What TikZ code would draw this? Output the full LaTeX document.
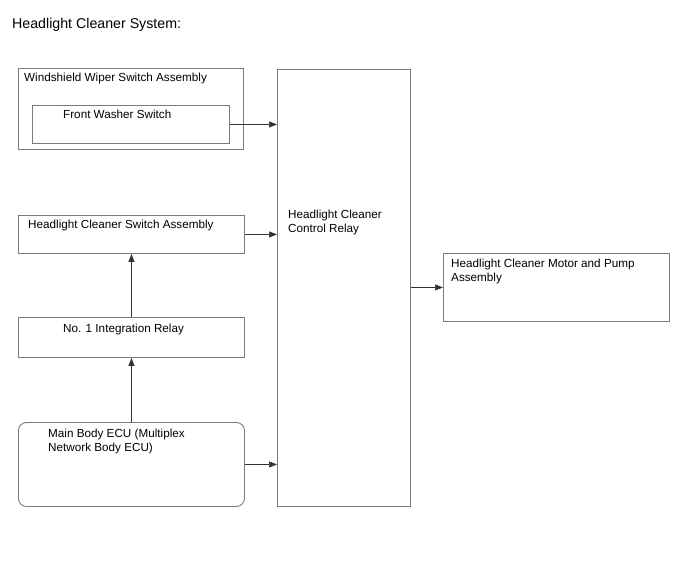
\documentclass[tikz,border=0pt]{standalone}
\usepackage{fontspec}
\setmainfont{Liberation Sans}
\usetikzlibrary{arrows.meta}
\definecolor{boxgray}{HTML}{7A7A7A}
\definecolor{linegray}{HTML}{333333}
\begin{document}
\begin{tikzpicture}[x=1pt,y=-1pt,
  box/.style={draw=boxgray, line width=0.9pt, inner sep=0pt, anchor=north west},
  lbl/.style={inner sep=0pt, anchor=base west, align=left, font=\fontsize{11.7}{14}\selectfont},
  conn/.style={draw=linegray, line width=0.7pt, -{Triangle[length=8pt,width=6pt]}}]
\useasboundingbox (0,0) rectangle (688,560);
\node[inner sep=0pt, anchor=base west, font=\fontsize{14.2}{17}\selectfont] (title) at (12,28) {Headlight Cleaner System:};
% boxes
\node[box, minimum width=225pt, minimum height=81pt] (ww) at (18,68) {};
\node[box, minimum width=197pt, minimum height=38pt] (fw) at (32,105) {};
\node[box, minimum width=226pt, minimum height=38pt] (hcs) at (18,215) {};
\node[box, minimum width=226pt, minimum height=40pt] (ir) at (18,317) {};
\node[box, rounded corners=8pt, minimum width=226pt, minimum height=84pt] (ecu) at (18,422) {};
\node[box, minimum width=133pt, minimum height=437pt] (rel) at (277,69) {};
\node[box, minimum width=226pt, minimum height=68pt] (mot) at (443,253) {};
% labels (base = last line)
\node[lbl] (wwt) at (24,81) {Windshield Wiper Switch Assembly};
\node[lbl] (fwt) at (63,118) {Front Washer Switch};
\node[lbl] (hcst) at (28,228) {Headlight Cleaner Switch Assembly};
\node[lbl] (irt) at (63,332) {No. 1 Integration Relay};
\node[lbl] (ecut) at (48,451) {Main Body ECU (Multiplex\\Network Body ECU)};
\node[lbl] (relt) at (288,232) {Headlight Cleaner\\Control Relay};
\node[lbl] (mott) at (451,281) {Headlight Cleaner Motor and Pump\\Assembly};
% connectors
\draw[conn] (fw.east) -- (fw.east -| rel.west);
\draw[conn] (hcs.east) -- (hcs.east -| rel.west);
\draw[conn] (ir.north) -- (hcs.south);
\draw[conn] (ecu.north) -- (ir.south);
\draw[conn] (ecu.east) -- (ecu.east -| rel.west);
\draw[conn] (rel.east |- mot.west) -- (mot.west);
\end{tikzpicture}
\end{document}
